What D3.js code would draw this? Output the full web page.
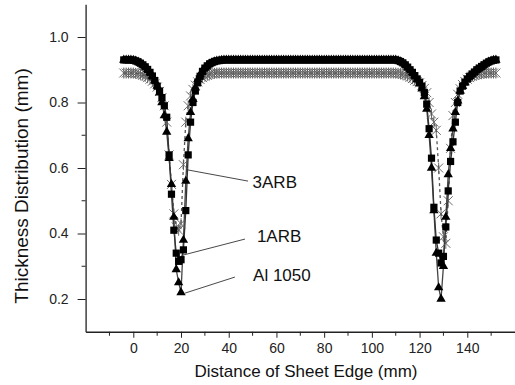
<!DOCTYPE html>
<html>
<head>
<meta charset="utf-8">
<script src="https://cdn.jsdelivr.net/npm/d3@7"></script>
<style>
  body { margin: 0; background: #fff; }
  svg { display: block; font-family: "Liberation Sans", Arial, sans-serif; }
</style>
</head>
<body>
<svg id="chart" width="515" height="385"></svg>
<script>
// Distance from sheet edge (mm)
const distanceMm = [
  -4, -3, -2, -1, 0, 1, 2, 3, 4, 5,
  6, 7, 8, 9, 10, 11, 12, 13, 14, 15,
  16, 17, 18, 19, 20, 21, 22, 23, 24, 25,
  26, 27, 28, 29, 30, 31, 32, 33, 34, 35,
  36, 37, 38, 39, 40, 41, 42, 43, 44, 45,
  46, 47, 48, 49, 50, 51, 52, 53, 54, 55,
  56, 57, 58, 59, 60, 61, 62, 63, 64, 65,
  66, 67, 68, 69, 70, 71, 72, 73, 74, 75,
  76, 77, 78, 79, 80, 81, 82, 83, 84, 85,
  86, 87, 88, 89, 90, 91, 92, 93, 94, 95,
  96, 97, 98, 99, 100, 101, 102, 103, 104, 105,
  106, 107, 108, 109, 110, 111, 112, 113, 114, 115,
  116, 117, 118, 119, 120, 121, 122, 123, 124, 125,
  126, 127, 128, 129, 130, 131, 132, 133, 134, 135,
  136, 137, 138, 139, 140, 141, 142, 143, 144, 145,
  146, 147, 148, 149, 150, 151, 152
];

// Thickness (mm) - 1ARB (squares)
const thick1ARB = [
  0.930, 0.930, 0.930, 0.930, 0.929, 0.927, 0.924, 0.920, 0.915, 0.909,
  0.901, 0.892, 0.881, 0.867, 0.850, 0.835, 0.815, 0.790, 0.755, 0.640,
  0.520, 0.410, 0.340, 0.315, 0.320, 0.350, 0.470, 0.640, 0.740, 0.800,
  0.835, 0.860, 0.880, 0.895, 0.905, 0.912, 0.918, 0.922, 0.925, 0.927,
  0.928, 0.929, 0.930, 0.930, 0.930, 0.930, 0.930, 0.930, 0.930, 0.930,
  0.930, 0.930, 0.930, 0.930, 0.930, 0.930, 0.930, 0.930, 0.930, 0.930,
  0.930, 0.930, 0.930, 0.930, 0.930, 0.930, 0.930, 0.930, 0.930, 0.930,
  0.930, 0.930, 0.930, 0.930, 0.930, 0.930, 0.930, 0.930, 0.930, 0.930,
  0.930, 0.930, 0.930, 0.930, 0.930, 0.930, 0.930, 0.930, 0.930, 0.930,
  0.930, 0.930, 0.930, 0.930, 0.930, 0.930, 0.930, 0.930, 0.930, 0.930,
  0.930, 0.930, 0.930, 0.930, 0.930, 0.930, 0.930, 0.930, 0.930, 0.930,
  0.930, 0.930, 0.930, 0.930, 0.930, 0.928, 0.925, 0.921, 0.915, 0.908,
  0.900, 0.892, 0.882, 0.872, 0.862, 0.850, 0.830, 0.795, 0.720, 0.630,
  0.480, 0.380, 0.340, 0.310, 0.330, 0.420, 0.530, 0.620, 0.680, 0.740,
  0.800, 0.835, 0.850, 0.862, 0.872, 0.880, 0.887, 0.893, 0.900, 0.905,
  0.910, 0.915, 0.920, 0.924, 0.927, 0.929, 0.930
];

// Thickness (mm) - Al 1050 (triangles)
const thickAl1050 = [
  0.930, 0.930, 0.930, 0.930, 0.929, 0.927, 0.924, 0.920, 0.915, 0.909,
  0.901, 0.892, 0.881, 0.867, 0.850, 0.830, 0.800, 0.760, 0.710, 0.630,
  0.550, 0.450, 0.290, 0.250, 0.220, 0.380, 0.560, 0.690, 0.770, 0.810,
  0.845, 0.870, 0.885, 0.897, 0.906, 0.913, 0.918, 0.922, 0.925, 0.927,
  0.928, 0.929, 0.930, 0.930, 0.930, 0.930, 0.930, 0.930, 0.930, 0.930,
  0.930, 0.930, 0.930, 0.930, 0.930, 0.930, 0.930, 0.930, 0.930, 0.930,
  0.930, 0.930, 0.930, 0.930, 0.930, 0.930, 0.930, 0.930, 0.930, 0.930,
  0.930, 0.930, 0.930, 0.930, 0.930, 0.930, 0.930, 0.930, 0.930, 0.930,
  0.930, 0.930, 0.930, 0.930, 0.930, 0.930, 0.930, 0.930, 0.930, 0.930,
  0.930, 0.930, 0.930, 0.930, 0.930, 0.930, 0.930, 0.930, 0.930, 0.930,
  0.930, 0.930, 0.930, 0.930, 0.930, 0.930, 0.930, 0.930, 0.930, 0.930,
  0.930, 0.930, 0.930, 0.930, 0.930, 0.928, 0.925, 0.921, 0.915, 0.908,
  0.900, 0.892, 0.882, 0.870, 0.858, 0.842, 0.818, 0.780, 0.700, 0.600,
  0.470, 0.340, 0.235, 0.200, 0.300, 0.450, 0.580, 0.660, 0.720, 0.770,
  0.805, 0.835, 0.850, 0.862, 0.872, 0.880, 0.887, 0.893, 0.900, 0.905,
  0.910, 0.915, 0.920, 0.924, 0.927, 0.929, 0.930
];

// Thickness (mm) - 3ARB (stars, dashed)
const thick3ARB = [
  0.890, 0.890, 0.890, 0.890, 0.890, 0.889, 0.888, 0.886, 0.883, 0.880,
  0.876, 0.871, 0.865, 0.857, 0.847, 0.834, 0.815, 0.790, 0.740, 0.640,
  0.550, 0.460, 0.420, 0.410, 0.430, 0.610, 0.740, 0.790, 0.820, 0.840,
  0.853, 0.863, 0.870, 0.876, 0.880, 0.883, 0.886, 0.888, 0.889, 0.890,
  0.890, 0.890, 0.890, 0.890, 0.890, 0.890, 0.890, 0.890, 0.890, 0.890,
  0.890, 0.890, 0.890, 0.890, 0.890, 0.890, 0.890, 0.890, 0.890, 0.890,
  0.890, 0.890, 0.890, 0.890, 0.890, 0.890, 0.890, 0.890, 0.890, 0.890,
  0.890, 0.890, 0.890, 0.890, 0.890, 0.890, 0.890, 0.890, 0.890, 0.890,
  0.890, 0.890, 0.890, 0.890, 0.890, 0.890, 0.890, 0.890, 0.890, 0.890,
  0.890, 0.890, 0.890, 0.890, 0.890, 0.890, 0.890, 0.890, 0.890, 0.890,
  0.890, 0.890, 0.890, 0.890, 0.890, 0.890, 0.890, 0.890, 0.890, 0.890,
  0.890, 0.890, 0.890, 0.890, 0.890, 0.889, 0.888, 0.886, 0.884, 0.881,
  0.877, 0.873, 0.868, 0.864, 0.860, 0.852, 0.843, 0.830, 0.800, 0.765,
  0.740, 0.715, 0.600, 0.460, 0.390, 0.370, 0.500, 0.660, 0.760, 0.800,
  0.825, 0.842, 0.855, 0.864, 0.871, 0.876, 0.880, 0.883, 0.885, 0.887,
  0.888, 0.889, 0.890, 0.890, 0.890, 0.890, 0.890
];

// Axis ticks
const xMajorTicks = [0, 20, 40, 60, 80, 100, 120, 140];
const xMinorTicks = [-10, 10, 30, 50, 70, 90, 110, 130, 150];
const yMajorTicks = [0.2, 0.4, 0.6, 0.8, 1.0];
const yMinorTicks = [0.3, 0.5, 0.7, 0.9];

// Label callouts (data coords: text anchor, leader start, leader end)
const calloutText = ["3ARB", "1ARB", "Al 1050"];
const calloutTextX = [50.0, 51.8, 50.2];
const calloutTextY = [0.539, 0.374, 0.255];
const leaderFromX = [48.1, 46.8, 42.6];
const leaderFromY = [0.560, 0.383, 0.267];
const leaderToX = [22.9, 20.8, 21.7];
const leaderToY = [0.594, 0.334, 0.218];

const svg = d3.select("#chart");
const width = 515, height = 385;

svg.append("rect").attr("width", width).attr("height", height).attr("fill", "#fff");

// Scales
const xScale = d3.scaleLinear().domain([-20, 160]).range([85.6, 515]);
const yScale = d3.scaleLinear().domain([0.1, 1.1]).range([331.75, 4.25]);
const axisColour = "#222";

// Y axis
const yAxisG = svg.append("g").attr("transform", `translate(${xScale(-20)},0)`);
yAxisG.call(d3.axisLeft(yScale).tickValues(yMajorTicks).tickSize(8).tickSizeOuter(0)
    .tickPadding(9).tickFormat(d3.format(".1f")));
yAxisG.call(g => g.selectAll(".minor").data(yMinorTicks).enter()
    .append("line").attr("class", "minor")
    .attr("x1", -4).attr("x2", 0)
    .attr("y1", d => yScale(d)).attr("y2", d => yScale(d)));

// X axis
const xAxisG = svg.append("g").attr("transform", `translate(0,${yScale(0.1)})`);
xAxisG.call(d3.axisBottom(xScale).tickValues(xMajorTicks).tickSize(6).tickSizeOuter(0)
    .tickPadding(5).tickFormat(d3.format("d")));
xAxisG.call(g => g.selectAll(".minor").data(xMinorTicks).enter()
    .append("line").attr("class", "minor")
    .attr("x1", d => xScale(d)).attr("x2", d => xScale(d))
    .attr("y1", 0).attr("y2", 4));

svg.selectAll(".domain").attr("stroke", axisColour).attr("stroke-width", 1.3);
svg.selectAll(".tick line, .minor").attr("stroke", axisColour).attr("stroke-width", 1);
svg.selectAll(".tick text").attr("fill", "#222").style("font-size", "14px")
    .style("font-family", "'Liberation Sans', Arial, sans-serif");

// Axis titles
svg.append("text")
    .attr("x", 306).attr("y", 377)
    .attr("text-anchor", "middle")
    .attr("fill", "#111")
    .style("font-size", "17px")
    .text("Distance of Sheet Edge (mm)");

svg.append("text")
    .attr("transform", "translate(28,186) rotate(-90)")
    .attr("text-anchor", "middle")
    .attr("fill", "#111")
    .style("font-size", "19px")
    .text("Thickness Distribution (mm)");

// Series
const series = [
  { name: "3ARB", values: thick3ARB, dash: "3 3", lineColour: "#555" },
  { name: "Al 1050", values: thickAl1050, dash: null, lineColour: "#444" },
  { name: "1ARB", values: thick1ARB, dash: null, lineColour: "#333" }
];

const line = d3.line()
    .x(d => xScale(d.x))
    .y(d => yScale(d.y));

const toPoints = vals => distanceMm.map((x, i) => ({ x: x, y: vals[i] }));

svg.selectAll(".seriesLine")
    .data(series)
    .enter()
    .append("path")
    .attr("class", "seriesLine")
    .attr("d", d => line(toPoints(d.values)))
    .attr("fill", "none")
    .attr("stroke", d => d.lineColour)
    .attr("stroke-width", 1.3)
    .attr("stroke-dasharray", d => d.dash);

// 3ARB stars
const starPath = "M-4.5,-4.5L4.5,4.5M-4.5,4.5L4.5,-4.5M0,-5.5L0,5.5";
svg.selectAll(".stars")
    .data(toPoints(thick3ARB))
    .enter()
    .append("path")
    .attr("class", "stars")
    .attr("transform", d => `translate(${xScale(d.x)},${yScale(d.y)})`)
    .attr("d", starPath)
    .attr("fill", "none")
    .attr("stroke", "#5a5a5a")
    .attr("stroke-width", 0.9);

// Al 1050 triangles
svg.selectAll(".triangles")
    .data(toPoints(thickAl1050))
    .enter()
    .append("path")
    .attr("class", "triangles")
    .attr("transform", d => `translate(${xScale(d.x)},${yScale(d.y)})`)
    .attr("d", d3.symbol(d3.symbolTriangle, 38)())
    .attr("fill", "#000");

// 1ARB squares
svg.selectAll(".squares")
    .data(toPoints(thick1ARB))
    .enter()
    .append("path")
    .attr("class", "squares")
    .attr("transform", d => `translate(${xScale(d.x)},${yScale(d.y)})`)
    .attr("d", d3.symbol(d3.symbolSquare, 52)())
    .attr("fill", "#000");

// Callouts
svg.selectAll(".leaders")
    .data(calloutText)
    .enter()
    .append("line")
    .attr("class", "leaders")
    .attr("x1", (d, i) => xScale(leaderFromX[i]))
    .attr("y1", (d, i) => yScale(leaderFromY[i]))
    .attr("x2", (d, i) => xScale(leaderToX[i]))
    .attr("y2", (d, i) => yScale(leaderToY[i]))
    .attr("stroke", "#333")
    .attr("stroke-width", 0.9);

svg.selectAll(".calloutLabels")
    .data(calloutText)
    .enter()
    .append("text")
    .attr("class", "calloutLabels")
    .attr("x", (d, i) => xScale(calloutTextX[i]))
    .attr("y", (d, i) => yScale(calloutTextY[i]))
    .attr("fill", "#111")
    .style("font-size", "17px")
    .text(d => d);
</script>
</body>
</html>
